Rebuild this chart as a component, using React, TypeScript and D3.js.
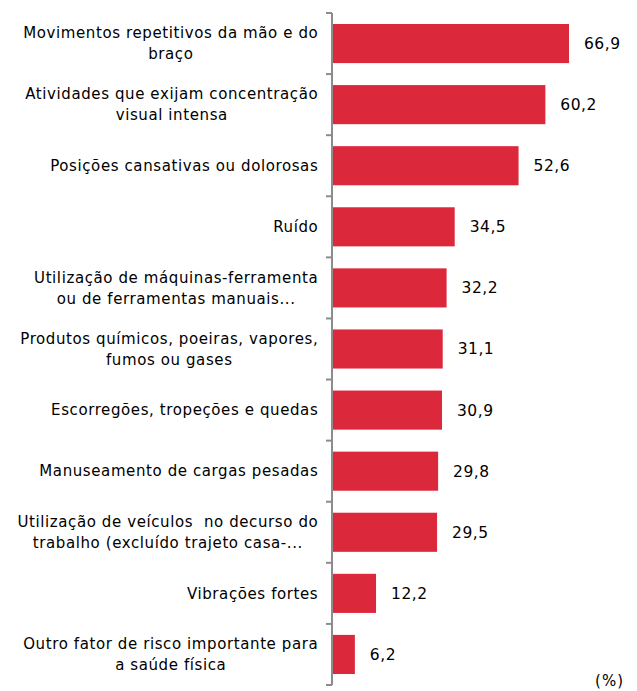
import { useEffect, useRef } from "react";
import * as d3 from "d3";

// categories, each line of the label as shown in the chart
const categories = [
  ["Movimentos repetitivos da mão e do", "braço"],
  ["Atividades que exijam concentração", "visual intensa"],
  ["Posições cansativas ou dolorosas"],
  ["Ruído"],
  ["Utilização de máquinas-ferramenta", "ou de ferramentas manuais..."],
  ["Produtos químicos, poeiras, vapores,", "fumos ou gases"],
  ["Escorregões, tropeções e quedas"],
  ["Manuseamento de cargas pesadas"],
  ["Utilização de veículos  no decurso do", "trabalho (excluído trajeto casa-..."],
  ["Vibrações fortes"],
  ["Outro fator de risco importante para", "a saúde física"],
];
const values = [66.9, 60.2, 52.6, 34.5, 32.2, 31.1, 30.9, 29.8, 29.5, 12.2, 6.2];
const unitLabel = "(%)";

const width = 637;
const height = 691;
const font = "DejaVu Sans";

export default function App() {
  const ref = useRef<SVGSVGElement>(null);

  useEffect(() => {
    const svg = d3.select(ref.current);
    svg.selectAll("*").remove();

    const axisX = 332;
    const x = d3.scaleLinear().domain([0, 66.9]).range([axisX + 1, 569]);
    const y = d3.scaleBand<number>()
      .domain(d3.range(values.length))
      .range([13, 685])
      .paddingInner(0.36)
      .paddingOuter(0.18);
    const step = y.step();

    // bars
    svg.append("g")
      .selectAll("rect")
      .data(values)
      .join("rect")
      .attr("x", x(0))
      .attr("y", (_, i) => y(i)!)
      .attr("width", d => x(d) - x(0))
      .attr("height", y.bandwidth())
      .attr("fill", "#DC283B");

    // axis line + ticks at band boundaries
    const axis = svg.append("g").attr("stroke", "#8c8c8c").attr("stroke-width", 2);
    axis.append("line")
      .attr("x1", axisX).attr("x2", axisX)
      .attr("y1", 13).attr("y2", 685);
    axis.selectAll("line.tick")
      .data(d3.range(values.length + 1))
      .join("line")
      .attr("class", "tick")
      .attr("x1", axisX - 6).attr("x2", axisX)
      .attr("y1", i => 13 + i * step).attr("y2", i => 13 + i * step);

    // value labels
    svg.append("g")
      .selectAll("text")
      .data(values)
      .join("text")
      .attr("x", d => x(d) + 15)
      .attr("y", (_, i) => y(i)! + y.bandwidth() / 2)
      .attr("dy", "0.35em")
      .attr("font-family", font)
      .attr("font-size", 15.5)
      .attr("letter-spacing", 0.5)
      .attr("fill", "#000")
      .text(d => d.toFixed(1).replace(".", ","));

    // category labels: lines centred on each other, block right-aligned
    const fs = 15;
    const ctx = document.createElement("canvas").getContext("2d")!;
    ctx.font = `${fs}px ${font}`;
    const spacing = 0.6;
    const measure = (s: string) => ctx.measureText(s).width + s.length * spacing;
    const right = 318;
    const lineH = 21;
    const labels = svg.append("g");
    categories.forEach((lines, i) => {
      const maxW = d3.max(lines, measure)!;
      const cx = right - maxW / 2;
      const cy = y(i)! + y.bandwidth() / 2;
      lines.forEach((l, j) => {
        labels.append("text")
          .attr("x", cx + spacing / 2)
          .attr("y", cy + (j - (lines.length - 1) / 2) * lineH)
          .attr("dy", "0.35em")
          .attr("text-anchor", "middle")
          .attr("font-family", font)
          .attr("font-size", fs)
          .attr("letter-spacing", spacing)
          .attr("fill", "#000")
          .style("white-space", "pre")
          .text(l);
      });
    });

    svg.append("text")
      .attr("x", 624)
      .attr("y", 681)
      .attr("dy", "0.35em")
      .attr("text-anchor", "end")
      .attr("font-family", font)
      .attr("font-size", 15)
      .attr("letter-spacing", 1)
      .text(unitLabel);
  }, []);

  return (
    <svg
      ref={ref}
      width={width}
      height={height}
      style={{ position: "absolute", left: 0, top: 0, background: "#fff" }}
    />
  );
}
